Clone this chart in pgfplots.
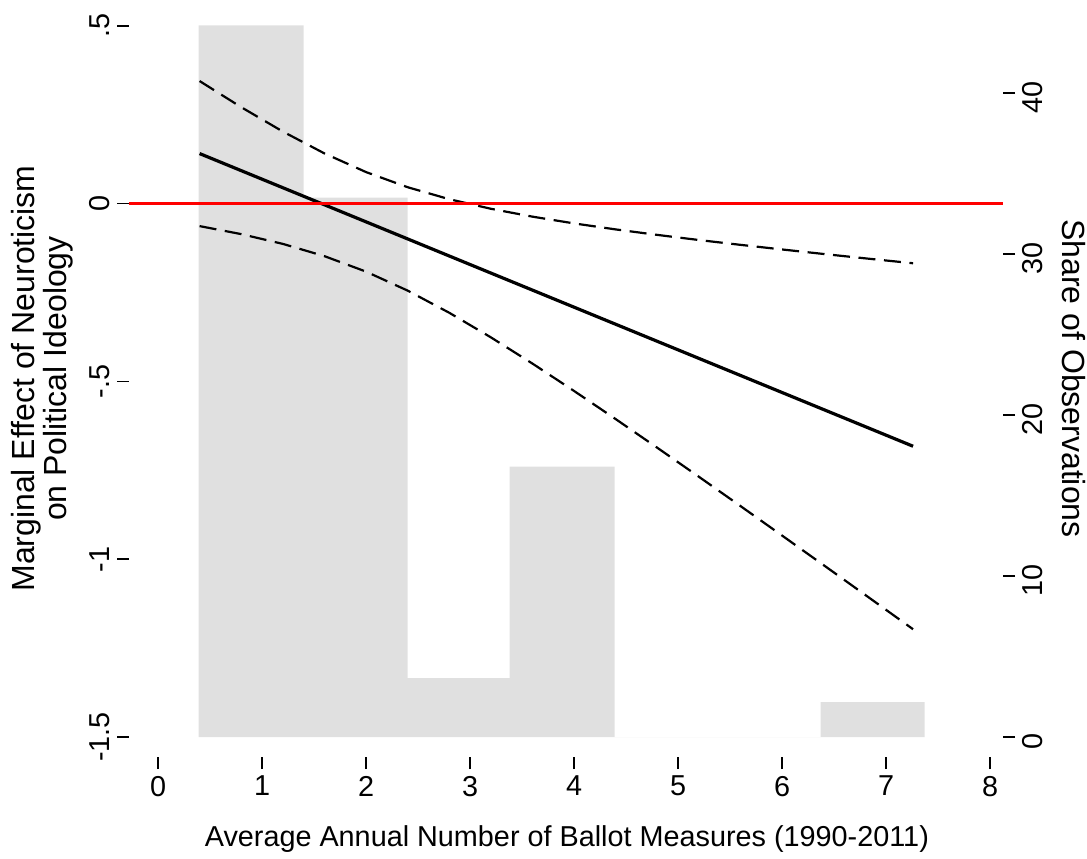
\documentclass[border=0pt]{standalone}
\usepackage{fontspec}
\setmainfont{Liberation Sans}
\usepackage{pgfplots}
\pgfplotsset{compat=1.18}
\definecolor{histgray}{RGB}{224,224,224}
\newcommand{\fsz}{\fontsize{14.4}{16.2}\selectfont}
\newcommand{\lsz}{\fontsize{16}{16.3}\selectfont}

\begin{document}
\begin{tikzpicture}
% ---- histogram (right axis: share of observations)
\begin{axis}[
  scale only axis, width=437pt, height=378.5pt,
  xmin=-0.279, xmax=8.125, ymin=-1.242, ymax=45.78,
  axis line style={draw=none},
  xtick=\empty,
  ytick pos=right, yticklabel pos=right,
  ytick={0,10,20,30,40}, yticklabels={0,10,20,30,40},
  tick align=outside, major tick length=6pt,
  tick style={black, line width=0.75pt},
  yticklabel style={rotate=90, anchor=north, xshift=-2.3pt, font=\fsz},
  ylabel={Share of Observations},
  ylabel style={at={(axis description cs:1.081,0.5)}, anchor=center, rotate=180, font=\lsz},
]
\addplot[ybar interval, fill=histgray, draw=none] coordinates {
  (0.39,44.2) (1.40,33.5) (2.40,3.66) (3.38,16.8) (4.39,0) (6.37,2.17) (7.37,2.17)
};
\end{axis}
% ---- marginal effect (left axis)
\begin{axis}[
  scale only axis, width=437pt, height=378.5pt,
  xmin=-0.279, xmax=8.125, ymin=-1.5563, ymax=0.573,
  axis line style={draw=none},
  xtick pos=bottom, ytick pos=left,
  xtick={0,1,2,3,4,5,6,7,8}, xticklabels={0,1,2,3,4,5,6,7,8},
  ytick={-1.5,-1,-0.5,0,0.5}, yticklabels={-1.5,-1,-.5,0,.5},
  tick align=outside, major tick length=6pt,
  tick style={black, line width=0.75pt},
  xticklabel style={font=\fsz},
  yticklabel style={rotate=90, anchor=south, font=\fsz},
  xlabel={Average Annual Number of Ballot Measures (1990-2011)},
  xlabel style={at={(axis description cs:0.501,-0.108)}, anchor=center, font=\fsz},
  ylabel={Marginal Effect of Neuroticism\\on Political Ideology},
  ylabel style={at={(axis description cs:-0.0995,0.5)}, anchor=center, align=center, font=\lsz},
]
\addplot[black, line width=1.1pt, dash pattern=on 8.5pt off 4.3pt] coordinates {
  (0.4,0.345)(0.8,0.2715)(1.2,0.203)(1.6,0.1415)(2.0,0.089)(2.4,0.0464)(2.8,0.0127)
  (3.2,-0.0142)(3.6,-0.0364)(4.0,-0.0554)(4.4,-0.0723)(4.8,-0.0877)(5.2,-0.1021)
  (5.6,-0.1157)(6.0,-0.1287)(6.4,-0.1414)(6.8,-0.1537)(7.26,-0.1675)
};
\addplot[black, line width=1.1pt, dash pattern=on 8.5pt off 4.3pt] coordinates {
  (0.4,-0.063)(0.8,-0.0855)(1.2,-0.113)(1.6,-0.1475)(2.0,-0.191)(2.4,-0.2444)(2.8,-0.3067)
  (3.2,-0.3758)(3.6,-0.4496)(4.0,-0.5266)(4.4,-0.6057)(4.8,-0.6863)(5.2,-0.7679)
  (5.6,-0.8503)(6.0,-0.9333)(6.4,-1.0166)(6.8,-1.1003)(7.26,-1.1969)
};
\addplot[black, line width=1.6pt] coordinates {(0.4,0.141) (7.26,-0.6822)};
\addplot[red, line width=1.5pt] coordinates {(-0.279,0) (8.125,0)};
\coordinate (BL) at (axis description cs:-0.1476,-0.1334);
\coordinate (TR) at (axis description cs:1.0961,1);
\end{axis}
\pgfresetboundingbox
\path[use as bounding box] (BL) rectangle (TR);
\end{tikzpicture}
\end{document}
